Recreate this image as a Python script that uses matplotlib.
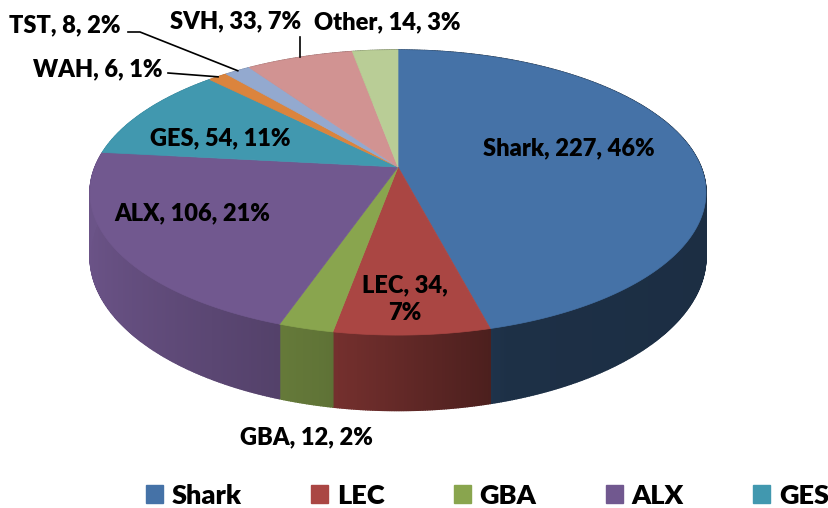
import numpy as np
import matplotlib
matplotlib.use("Agg")
import matplotlib.pyplot as plt
from matplotlib.patches import Polygon, Patch
from matplotlib.colors import to_rgb

names = ["Shark", "LEC", "GBA", "ALX", "GES", "WAH", "TST", "SVH", "Other"]
values = [227, 34, 12, 106, 54, 6, 8, 33, 14]
colors = ["#4572A7", "#AA4643", "#89A54E", "#71588F", "#4198AF",
          "#DB843D", "#93A9CF", "#D19392", "#B9CD96"]
legend_names = names[:5]

plt.rcParams['font.family'] = ['Lato', 'DejaVu Sans']

fig = plt.figure(figsize=(8.29, 5.08), dpi=100)
ax = fig.add_axes([0, 0, 1, 1])
ax.set_xlim(0, 829)
ax.set_ylim(508, 0)
ax.axis('off')

# pie geometry in pixels (fake perspective like excel 3d pie)
cx, cy = 398, 167
a, b, k = 303, 138, 0.179
depth = 62


def proj(theta, drop=0.0):
    u = np.sin(theta)
    v = -np.cos(theta)
    s = 1.0 / (1 - k * v)
    return cx + a * u * s, cy + b * v * s + drop * s


def shade(c, f):
    r, g, bb = to_rgb(c)
    return (r * f, g * f, bb * f)


total = sum(values)
bounds = np.concatenate([[0], np.cumsum(values)]) / total * 2 * np.pi

# side walls first, in small strips so the shading can vary
for i, c in enumerate(colors):
    t = np.linspace(bounds[i], bounds[i + 1], max(4, int(values[i] * 2)))
    for j in range(len(t) - 1):
        x1, y1 = proj(t[j])
        x2, y2 = proj(t[j + 1])
        x3, y3 = proj(t[j + 1], depth)
        x4, y4 = proj(t[j], depth)
        um = np.sin((t[j] + t[j + 1]) / 2)
        f = np.interp(um, [-1, -0.2, 0.1, 0.3, 1], [0.95, 0.70, 0.53, 0.42, 0.40])
        col = shade(c, f)
        ax.add_patch(Polygon([(x1, y1), (x2, y2), (x3, y3), (x4, y4)],
                             closed=True, facecolor=col, edgecolor=col, lw=1.0, zorder=1))

# top faces
for i, c in enumerate(colors):
    t = np.linspace(bounds[i], bounds[i + 1], 200)
    xs, ys = proj(t)
    pts = [(cx, cy)] + list(zip(xs, ys))
    ax.add_patch(Polygon(pts, closed=True, facecolor=c, edgecolor=c, lw=0.5, zorder=3))

# data labels
pct = [round(v / total * 100) for v in values]
lab = ["%s, %d, %d%%" % (n, v, p) for n, v, p in zip(names, values, pct)]
lab[1] = "%s, %d,\n%d%%" % (names[1], values[1], pct[1])

fs = 17
pos = {0: (569, 148, 'center'), 1: (405, 299, 'center'), 2: (306, 437, 'center'),
       3: (192, 213, 'center'), 4: (220, 138, 'center'), 5: (163, 69, 'right'),
       6: (121, 25, 'right'), 7: (236, 21, 'center'), 8: (387, 22, 'center')}
for i, (x, y, ha) in pos.items():
    ax.text(x, y, lab[i], ha=ha, va='center', fontsize=fs, fontweight='heavy',
            color='black', linespacing=1.35, zorder=5)

# leader lines for the thin slices
mid = (bounds[:-1] + bounds[1:]) / 2
px, py = proj(mid[5])
ax.plot([168, px], [73, py], color='black', lw=1.2, zorder=4)
px, py = proj(mid[6])
ax.plot([128, 140, px], [32, 32, py], color='black', lw=1.2, zorder=4)
px, py = proj(mid[7])
ax.plot([px, px], [37, py], color='black', lw=1.2, zorder=4)

handles = [Patch(facecolor=c, edgecolor=c) for c in colors[:5]]
ax.legend(handles, legend_names, ncol=5, loc='center left',
          bbox_to_anchor=(146 / 829, 1 - 495.5 / 508), borderpad=0, borderaxespad=0,
          frameon=False, handlelength=0.63, handleheight=0.63, handletextpad=0.33,
          columnspacing=2.55, prop={'size': 19.5, 'weight': 'heavy'})

fig.savefig("out.png", dpi=100)
